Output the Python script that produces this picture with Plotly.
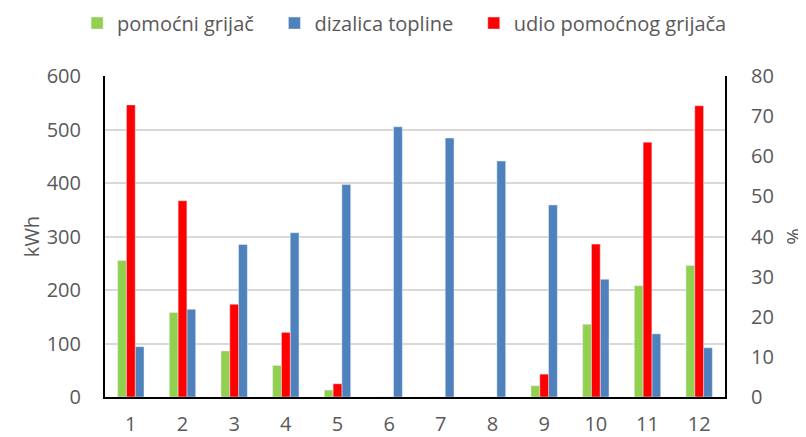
import plotly.graph_objects as go

months = [str(i) for i in range(1, 13)]
pomocni = [255, 158, 86, 59, 13, 0, 0, 0, 21, 136, 208, 246]
dizalica = [94, 164, 285, 307, 397, 505, 484, 441, 359, 220, 118, 92]
udio = [72.8, 48.9, 23.1, 16.1, 3.3, 0, 0, 0, 5.7, 38.1, 63.5, 72.6]
series_names = ["pomoćni grijač", "dizalica topline", "udio pomoćnog grijača"]

font_fam = "Open Sans, Noto Sans, sans-serif"
gray = "#595959"
fs = 20
pad = "\u00a0\u00a0\u00a0"

fig = go.Figure()
fig.add_trace(go.Bar(x=months, y=pomocni, name=series_names[0] + pad,
                     marker_color="#92d050", offsetgroup="a", yaxis="y",
                     legendrank=1))
fig.add_trace(go.Bar(x=months, y=udio, name=series_names[2],
                     marker_color="#ff0000", offsetgroup="b", yaxis="y2",
                     legendrank=3))
fig.add_trace(go.Bar(x=months, y=dizalica, name=series_names[1] + pad,
                     marker_color="#4f81bd", offsetgroup="c", yaxis="y",
                     legendrank=2))

fig.update_layout(
    width=806, height=437,
    margin=dict(l=97, r=89, t=68, b=48, autoexpand=False),
    paper_bgcolor="white", plot_bgcolor="white",
    barmode="group", bargap=0.49, bargroupgap=0,
    font=dict(family=font_fam, size=fs, color=gray),
    showlegend=True,
    legend=dict(orientation="h", x=-0.045, xanchor="left", y=1.165, yanchor="middle",
                font=dict(size=fs, color=gray), traceorder="normal",
                itemwidth=30),
    xaxis=dict(showgrid=False, showline=True, linecolor="black", linewidth=2,
               ticks="outside", ticklen=8, tickcolor="rgba(0,0,0,0)",
               tickfont=dict(size=fs, color=gray), type="category",
               automargin=False),
    yaxis=dict(range=[0, 600], dtick=100, showgrid=True, gridcolor="#d9d9d9",
               gridwidth=1.5, showline=True, linecolor="black", linewidth=2,
               zeroline=False, ticks="outside", ticklen=18, tickcolor="rgba(0,0,0,0)",
               tickfont=dict(size=fs, color=gray), automargin=False,
               title=dict(text="kWh", font=dict(size=fs, color=gray), standoff=2)),
    yaxis2=dict(range=[0, 80], dtick=10, overlaying="y", side="right",
                showgrid=False, showline=True, linecolor="black", linewidth=2,
                zeroline=False, ticks="outside", ticklen=20, tickcolor="rgba(0,0,0,0)",
                tickfont=dict(size=fs, color=gray), automargin=False,
                title=dict(text="%", font=dict(size=fs, color=gray), standoff=14)),
)

fig.write_html("out.html")
